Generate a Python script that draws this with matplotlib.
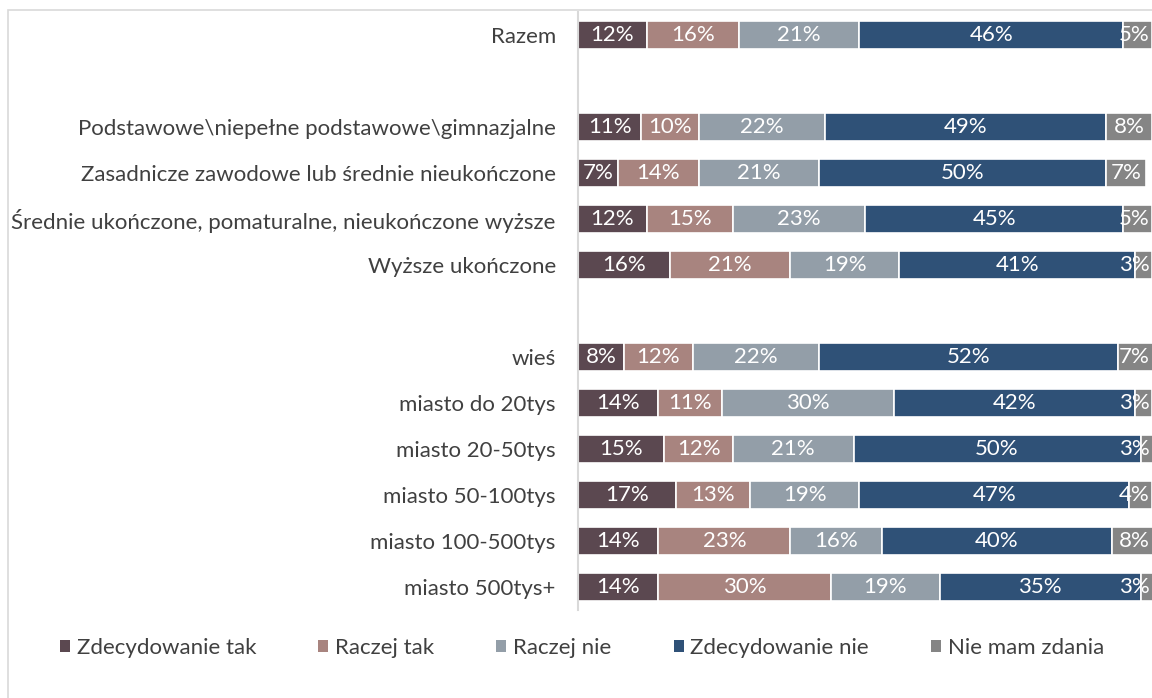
import matplotlib
matplotlib.use("Agg")
import matplotlib.pyplot as plt
from matplotlib.patches import Rectangle, Patch

plt.rcParams['font.family'] = ['Lato', 'DejaVu Sans']

categories = [
    'Razem', '',
    'Podstawowe\\niepełne podstawowe\\gimnazjalne',
    'Zasadnicze zawodowe lub średnie nieukończone',
    'Średnie ukończone, pomaturalne, nieukończone wyższe',
    'Wyższe ukończone', '',
    'wieś', 'miasto do 20tys', 'miasto 20-50tys', 'miasto 50-100tys',
    'miasto 100-500tys', 'miasto 500tys+',
]
series = ['Zdecydowanie tak', 'Raczej tak', 'Raczej nie', 'Zdecydowanie nie', 'Nie mam zdania']
colors = ['#5b4850', '#a8847f', '#939ea8', '#2f5177', '#858585']

zdecydowanie_tak = [12, None, 11, 7, 12, 16, None, 8, 14, 15, 17, 14, 14]
raczej_tak = [16, None, 10, 14, 15, 21, None, 12, 11, 12, 13, 23, 30]
raczej_nie = [21, None, 22, 21, 23, 19, None, 22, 30, 21, 19, 16, 19]
zdecydowanie_nie = [46, None, 49, 50, 45, 41, None, 52, 42, 50, 47, 40, 35]
nie_mam_zdania = [5, None, 8, 7, 5, 3, None, 7, 3, 3, 4, 8, 3]
values = [zdecydowanie_tak, raczej_tak, raczej_nie, zdecydowanie_nie, nie_mam_zdania]

W, H = 1152, 698
fig = plt.figure(figsize=(W / 100, H / 100), dpi=100)

# chart area border (Excel style)
fig.patches.append(Rectangle((8 / W, -0.1), 1.2, 1 - 10 / H + 0.1, transform=fig.transFigure,
                             fill=False, edgecolor='#d9d9d9', linewidth=1.2))

ax = fig.add_axes([578 / W, 1 - 610 / H, 574 / W, (610 - 12) / H])

ypos = list(range(len(categories)))
left = [0] * len(categories)
for s, vals, c in zip(series, values, colors):
    for i, v in enumerate(vals):
        if v is None:
            continue
        ax.barh(i, v, left=left[i], height=0.62, color=c, edgecolor='white', linewidth=1.2)
        cx = left[i] + v / 2
        # keep labels inside the plot area like Excel does
        if cx > 97:
            ax.text(99.6, i, f'{v}%', ha='right', va='center', color='white', fontsize=16)
        else:
            ax.text(cx, i, f'{v}%', ha='center', va='center', color='white', fontsize=16)
        left[i] += v

ax.set_xlim(0, 100)
ax.set_ylim(len(categories) - 0.5, -0.5)
ax.set_yticks(ypos)
ax.set_yticklabels(categories, fontsize=16, color='#404040')
ax.tick_params(axis='y', length=0, pad=16)
ax.set_xticks([])
for sp in ['top', 'right', 'bottom']:
    ax.spines[sp].set_visible(False)
ax.spines['left'].set_color('#d9d9d9')
ax.spines['left'].set_linewidth(1.5)

handles = [Patch(facecolor=c, label=s) for s, c in zip(series, colors)]
fig.legend(handles=handles, loc='center', bbox_to_anchor=(582 / W, 1 - 648 / H), ncol=5,
           frameon=False, fontsize=16, handlelength=0.45, handleheight=0.45,
           handletextpad=0.3, columnspacing=2.8, labelcolor='#404040')

fig.savefig('out.png', dpi=100)
